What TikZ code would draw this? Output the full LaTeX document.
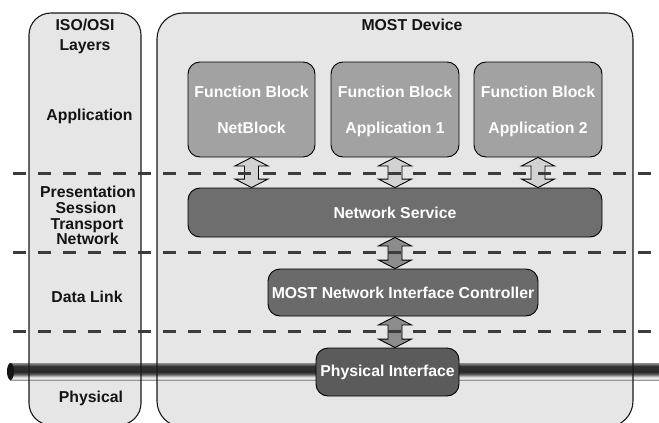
\documentclass[tikz,border=0pt]{standalone}
\usepackage{fontspec}
\setmainfont{Liberation Sans}
\usetikzlibrary{calc}

\definecolor{panelgray}{HTML}{E6E6E6}
\definecolor{fbgray}{HTML}{A2A2A2}
\definecolor{nsgray}{HTML}{6E6E6E}
\definecolor{nicgray}{HTML}{6A6A6A}
\definecolor{phygray}{HTML}{5B5B5B}
\definecolor{arrowlight}{HTML}{D2D2D2}
\definecolor{arrowdark}{HTML}{8C8C8C}
\definecolor{sepgray}{HTML}{3C3C3C}
\definecolor{txtdark}{HTML}{141414}

% cylindrical look of the bus cable (bottom to top)
\pgfdeclareverticalshading{cable}{100bp}{%
  rgb(0bp)=(0.58,0.58,0.58);
  rgb(25bp)=(0.58,0.58,0.58);
  rgb(29bp)=(0.93,0.93,0.93);
  rgb(34bp)=(0.86,0.86,0.86);
  rgb(42bp)=(0.36,0.36,0.36);
  rgb(49bp)=(0.16,0.16,0.16);
  rgb(66bp)=(0.20,0.20,0.20);
  rgb(71bp)=(0.42,0.42,0.42);
  rgb(75bp)=(0.55,0.55,0.55);
  rgb(100bp)=(0.55,0.55,0.55)}

% double-headed block arrow between two layers
\newcommand\layerlink[3]{%
  \draw[line width=0.9pt, fill=#3, line join=miter]
    let \p1=(#1), \p2=(#2) in
    (\x1,\y1) -- (\x1+16.5,\y1-8.5) -- (\x1+7,\y1-8.5) -- (\x1+7,\y2+8.5)
    -- (\x1+16.5,\y2+8.5) -- (\x1,\y2) -- (\x1-16.5,\y2+8.5) -- (\x1-7,\y2+8.5)
    -- (\x1-7,\y1-8.5) -- (\x1-16.5,\y1-8.5) -- cycle;}

% two-line caption of a function block, with fixed line metrics
\newcommand\fbtext[1]{\rule{0pt}{16pt}Function Block\\#1\vphantom{p}}

\begin{document}
\begin{tikzpicture}[x=1pt,y=-1pt,
  lbl/.style={font=\fontsize{15.8}{18}\selectfont\bfseries, text=txtdark,
    inner sep=0pt, anchor=base},
  blk/.style={draw=black, line width=0.9pt, rounded corners=12pt, inner sep=0pt,
    font=\fontsize{15.8}{36}\selectfont\bfseries, text=white, align=center},
  sep/.style={draw=sepgray, line width=3pt, dash pattern=on 13pt off 12pt},
  frame/.style={draw=black!90, line width=1.1pt}]

\useasboundingbox (0,0) rectangle (659,423);
\clip (0,0) rectangle (659,423);

% panels
\fill[panelgray, rounded corners=22pt] (29,13) rectangle (141,425);
\fill[panelgray, rounded corners=26pt] (157,13) rectangle (633,427);

% bus cable
\shade[shading=cable] (10,363) rectangle (659,380);
\fill[black!92] (10.5,371.5) ellipse (3.5 and 8.5);

% panel outlines
\draw[frame, rounded corners=22pt] (29,13) rectangle (141,425);
\draw[frame, rounded corners=26pt] (157,13) rectangle (633,427);

% blocks
\node[blk, fill=fbgray, minimum width=127pt, minimum height=95pt] (nb) at (251.5,109.5)
  {\fbtext{NetBlock}};
\node[blk, fill=fbgray, minimum width=128pt, minimum height=95pt] (app1) at (395,109.5)
  {\fbtext{Application 1}};
\node[blk, fill=fbgray, minimum width=128pt, minimum height=95pt] (app2) at (538,109.5)
  {\fbtext{Application 2}};
\node[blk, fill=nsgray, minimum width=414pt, minimum height=49pt] (ns) at (395,212.5)
  {Network Service};
\node[blk, fill=nicgray, minimum width=270pt, minimum height=47pt] (nic) at (403,292.5)
  {MOST Network Interface Controller};
\node[blk, fill=phygray, minimum width=143pt, minimum height=48pt] (pi) at (387.5,372)
  {Physical Interface};

% connections between layers
\layerlink{nb.south}{ns.north -| nb.south}{arrowlight}
\layerlink{app1.south}{ns.north -| app1.south}{arrowlight}
\layerlink{app2.south}{ns.north -| app2.south}{arrowlight}
\layerlink{ns.south}{nic.north -| ns.south}{arrowdark}
\layerlink{nic.south -| ns.south}{pi.north -| ns.south}{arrowdark}

% layer boundaries
\draw[sep] (13,173) -- (659,173);
\draw[sep] (13,252) -- (659,252);
\draw[sep] (13,331) -- (659,331);

% titles and layer names
\node[lbl] (osi1) at (85,30.7) {ISO/OSI};
\node[lbl] (osi2) at (85,50.7) {Layers};
\node[lbl] (dev) at (412,30.7) {MOST Device};
\node[lbl] (lapp) at (89.5,120.7) {Application};
\node[lbl] (lpre) at (88,197.7) {Presentation};
\node[lbl] (lses) at (86,213.5) {Session};
\node[lbl] (ltra) at (87,229) {Transport};
\node[lbl] (lnet) at (87.5,244) {Network};
\node[lbl] (ldl) at (87,302.7) {Data Link};
\node[lbl] (lphy) at (91,402.7) {Physical};
\end{tikzpicture}
\end{document}
